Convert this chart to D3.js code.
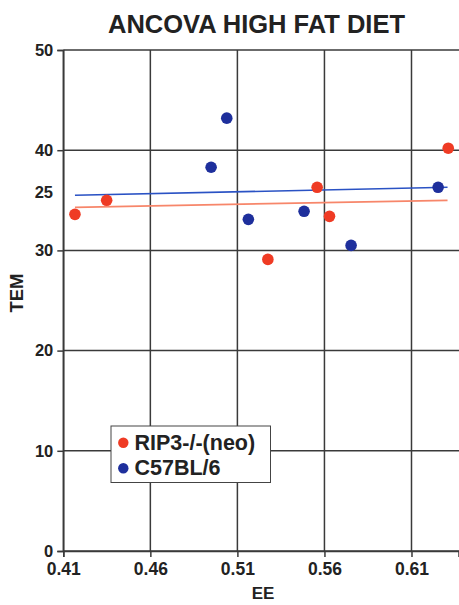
<!DOCTYPE html>
<html><head><meta charset="utf-8">
<script src="https://cdn.jsdelivr.net/npm/d3@7"></script>
<style>
html,body{margin:0;padding:0;background:#fff;}
svg{display:block;font-family:"Liberation Sans",Arial,Helvetica,sans-serif;}
</style></head>
<body>
<svg id="chart" width="459" height="605"></svg>
<script>
// ---- data ----
const seriesNames = ["RIP3-/-(neo)", "C57BL/6"];
const ripEE  = [0.4167, 0.4349, 0.5275, 0.5558, 0.5629, 0.6311];
const ripTEM = [33.6, 35.0, 29.1, 36.3, 33.4, 40.2];
const b6EE   = [0.4949, 0.5039, 0.5163, 0.5483, 0.5753, 0.6253];
const b6TEM  = [38.3, 43.2, 33.1, 33.9, 30.5, 36.3];
const fitEE     = [0.4167, 0.6307];
const ripFitTEM = [34.3, 35.0];
const b6FitTEM  = [35.5, 36.3];
const xTicks = [0.41, 0.46, 0.51, 0.56, 0.61];
const yTicks = [0, 10, 20, 30, 40, 50];
const yExtraLabelValue = [35.85];
const yExtraLabelText  = ["25"];

const svg = d3.select("#chart");
const x = d3.scaleLinear().domain([0.41, 0.637]).range([63.3, 458.5]);
const y = d3.scaleLinear().domain([0, 50]).range([551, 50]);
const gridCol = "#3a3a3a", textCol = "#222";
const red = "#ef3b24", blue = "#1e2f9c";

// title
svg.append("text").attr("x", 256.5).attr("y", 33).attr("text-anchor", "middle")
  .attr("font-size", 25.5).attr("font-weight", "bold").attr("fill", textCol)
  .text("ANCOVA HIGH FAT DIET");

// grid
const g = svg.append("g");
g.selectAll(".hg").data(yTicks).join("line")
  .attr("x1", x.range()[0]).attr("x2", 459).attr("y1", d => y(d)).attr("y2", d => y(d))
  .attr("stroke", gridCol).attr("stroke-width", 1.5);
g.selectAll(".vg").data(xTicks).join("line")
  .attr("x1", d => x(d)).attr("x2", d => x(d)).attr("y1", y(50)).attr("y2", y(0))
  .attr("stroke", gridCol).attr("stroke-width", 1.5);

// axes
const yAxis = svg.append("g").attr("transform", `translate(${x.range()[0]},0)`)
  .call(d3.axisLeft(y).tickValues(yTicks).tickSize(6).tickPadding(4).tickFormat(d3.format("d")));
const xAxis = svg.append("g").attr("transform", `translate(0,${y(0)})`)
  .call(d3.axisBottom(x).tickValues(xTicks).tickSize(6).tickPadding(6).tickFormat(d3.format(".2f")));
[yAxis, xAxis].forEach(a => {
  a.select(".domain").attr("stroke", gridCol).attr("stroke-width", 1.5);
  a.selectAll(".tick line").attr("stroke", gridCol).attr("stroke-width", 1.5);
  a.selectAll("text").attr("fill", textCol).attr("font-weight", "bold")
   .attr("font-family", "Liberation Sans, Arial, sans-serif");
});
yAxis.selectAll("text").attr("font-size", 16.5);
xAxis.selectAll("text").attr("font-size", 17.5);
// odd extra label
svg.selectAll(".extra").data(yExtraLabelValue).join("text")
  .attr("x", 53).attr("y", d => y(d)).attr("dy", "0.35em").attr("text-anchor", "end")
  .attr("font-size", 16.5).attr("font-weight", "bold").attr("fill", textCol)
  .text((d, i) => yExtraLabelText[i]);

// axis titles
svg.append("text").attr("x", 263).attr("y", 599).attr("text-anchor", "middle")
  .attr("font-size", 17).attr("font-weight", "bold").attr("fill", textCol).text("EE");
svg.append("text").attr("transform", "translate(23,293) rotate(-90)").attr("text-anchor", "middle")
  .attr("font-size", 18.5).attr("font-weight", "bold").attr("fill", textCol).text("TEM");

// fit lines
const line = d3.line().x(d => x(d[0])).y(d => y(d[1]));
svg.append("path").datum(fitEE.map((e, i) => [e, ripFitTEM[i]])).attr("d", line)
  .attr("fill", "none").attr("stroke", "#f7866a").attr("stroke-width", 1.8);
svg.append("path").datum(fitEE.map((e, i) => [e, b6FitTEM[i]])).attr("d", line)
  .attr("fill", "none").attr("stroke", "#2a52c4").attr("stroke-width", 1.6);

// points
svg.selectAll(".rp").data(ripEE).join("circle")
  .attr("cx", d => x(d)).attr("cy", (d, i) => y(ripTEM[i])).attr("r", 5.8).attr("fill", red);
svg.selectAll(".bp").data(b6EE).join("circle")
  .attr("cx", d => x(d)).attr("cy", (d, i) => y(b6TEM[i])).attr("r", 5.8).attr("fill", blue);

// legend
const lg = svg.append("g");
lg.append("rect").attr("x", 111).attr("y", 426).attr("width", 159.5).attr("height", 56.5)
  .attr("fill", "#fff").attr("stroke", "#444").attr("stroke-width", 1);
const legCols = [red, blue];
seriesNames.forEach((n, i) => {
  lg.append("circle").attr("cx", 123.3).attr("cy", 442.7 + i * 25.6).attr("r", 5.2).attr("fill", legCols[i]);
  lg.append("text").attr("x", 134.5).attr("y", 450 + i * 24.5)
    .attr("font-size", 21.5).attr("font-weight", "bold").attr("fill", textCol).text(n);
});
</script>
</body></html>
